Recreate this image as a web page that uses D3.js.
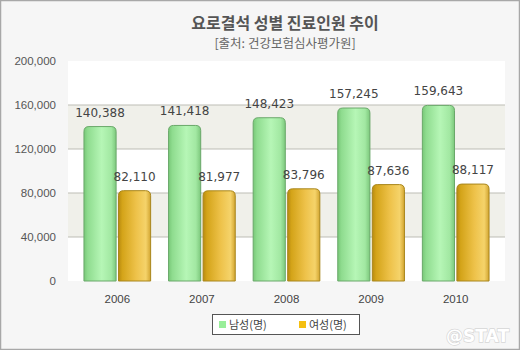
<!DOCTYPE html>
<html><head><meta charset="utf-8">
<script src="https://cdn.jsdelivr.net/npm/d3@7"></script>
<style>body{margin:0;background:#fff}svg{display:block}</style>
</head><body>
<script>
const years = ["2006","2007","2008","2009","2010"];
const maleValues = [140388,141418,148423,157245,159643];
const femaleValues = [82110,81977,83796,87636,88117];
const seriesNames = ["남성(명)","여성(명)"];
const yTicks = [0,40000,80000,120000,160000,200000];

const W=520,H=350;
const svg=d3.select("body").append("svg").attr("width",W).attr("height",H);
const defs=svg.append("defs");
function grad(id,stops){
  const g=defs.append("linearGradient").attr("id",id).attr("x1","0%").attr("x2","100%").attr("y1","0").attr("y2","0");
  stops.forEach(s=>g.append("stop").attr("offset",s[0]).attr("stop-color",s[1]));
}
grad("gGreen",[["0%","#78c878"],["12%","#8fdc8f"],["55%","#b6f6b6"],["85%","#a2e8a2"],["100%","#7cc87c"]]);
grad("gGold",[["0%","#b88a10"],["12%","#d4a419"],["55%","#eec24a"],["85%","#f5d36a"],["100%","#d2a530"]]);

svg.append("rect").attr("x",0.5).attr("y",0.5).attr("width",W-1).attr("height",H-1)
  .attr("fill","#f6f6f6").attr("stroke","#a8a8a8").attr("stroke-width",1.5);

svg.append("text").attr("x",285).attr("y",29).attr("text-anchor","middle")
  .attr("font-family","Noto Sans CJK KR").attr("font-weight","bold").attr("font-size",16)
  .attr("fill","#555").text("요로결석 성별 진료인원 추이");
svg.append("text").attr("x",285).attr("y",48).attr("text-anchor","middle")
  .attr("font-family","Noto Sans CJK KR").attr("font-size",12.5)
  .attr("fill","#666").text("[출처: 건강보험심사평가원]");

const plotL=68,plotR=505;
const y=d3.scaleLinear().domain([0,200000]).range([281,61]);
const x=d3.scaleBand().domain(years).range([75,498]).paddingInner(0.2).paddingOuter(0.1);
const xs=d3.scaleBand().domain([0,1]).range([0,x.bandwidth()]).paddingInner(0.04);

// bands
const bandG=svg.append("g");
for(let i=0;i<yTicks.length-1;i++){
  bandG.append("rect").attr("x",plotL).attr("width",plotR-plotL)
    .attr("y",y(yTicks[i+1])).attr("height",y(yTicks[i])-y(yTicks[i+1]))
    .attr("fill",(i%2===1)?"#f0f0ea":"#ffffff");
}
// grid
svg.append("g").selectAll("line").data(yTicks.slice(1,-1)).join("line")
  .attr("x1",plotL).attr("x2",plotR).attr("y1",d=>y(d)).attr("y2",d=>y(d))
  .attr("stroke","#bdbdb5").attr("stroke-width",1);

// y axis
const ya=svg.append("g").attr("transform",`translate(${plotL},0)`)
  .call(d3.axisLeft(y).tickValues(yTicks).tickFormat(d3.format(",")).tickSize(0).tickPadding(12));
ya.select(".domain").remove();
ya.selectAll("text").attr("font-family","Liberation Sans Narrow, Liberation Sans").attr("font-size",11.5).attr("fill","#555");

// x axis
const xa=svg.append("g").attr("transform","translate(0,281)")
  .call(d3.axisBottom(x).tickSize(0).tickPadding(14));
xa.select(".domain").remove();
xa.selectAll("text").attr("font-family","Liberation Sans Narrow, Liberation Sans").attr("font-size",11.5).attr("fill","#444");

function barPath(x0,w,y0,y1,r){
  return `M${x0},${y1}V${y0+r}Q${x0},${y0} ${x0+r},${y0}H${x0+w-r}Q${x0+w},${y0} ${x0+w},${y0+r}V${y1}Z`;
}
const series=[maleValues,femaleValues];
const fills=["url(#gGreen)","url(#gGold)"];
const strokes=["#6aa86a","#a8861c"];
series.forEach((vals,si)=>{
  const g=svg.append("g");
  g.selectAll("path").data(years).join("path")
    .attr("d",(d,i)=>barPath(x(d)+xs(si)+0.5,xs.bandwidth()-1,y(vals[i]),y(0),5))
    .attr("fill",fills[si]).attr("stroke",strokes[si]).attr("stroke-width",1);
  g.selectAll("text").data(years).join("text")
    .attr("x",(d)=>x(d)+xs(si)+xs.bandwidth()/2)
    .attr("y",(d,i)=>y(vals[i])-10)
    .attr("text-anchor","middle").attr("font-family","DejaVu Sans").attr("font-size",12)
    .attr("fill","#444").text((d,i)=>d3.format(",")(vals[i]));
});

// legend
const lg=svg.append("g");
lg.append("rect").attr("x",212.5).attr("y",314.5).attr("width",147).attr("height",20)
  .attr("fill","#fff").attr("stroke","#555");
const legColors=["#99ee99","#f5bf10"];
const legX=[219,299];
seriesNames.forEach((n,i)=>{
  lg.append("rect").attr("x",legX[i]).attr("y",321).attr("width",7).attr("height",7).attr("fill",legColors[i]);
  lg.append("text").attr("x",legX[i]+10).attr("y",329).attr("font-family","Noto Sans CJK KR")
    .attr("font-size",11).attr("fill","#444").text(n);
});

// watermark
svg.append("text").attr("x",509).attr("y",342).attr("text-anchor","end")
  .attr("font-family","DejaVu Sans").attr("font-weight","bold").attr("font-size",17)
  .attr("fill","#fff").attr("stroke","#d6d6d6").attr("stroke-width",1.4).attr("paint-order","stroke")
  .text("@STAT");
</script>
</body></html>
